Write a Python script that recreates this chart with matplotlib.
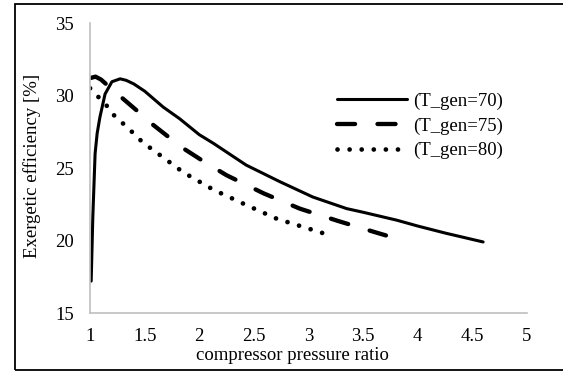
import matplotlib
matplotlib.use("Agg")
import matplotlib.pyplot as plt
from matplotlib.patches import Rectangle

plt.rcParams["font.family"] = ["Liberation Serif", "DejaVu Serif"]

# values
pr_70 = [1.01, 1.025, 1.046, 1.065, 1.09, 1.137, 1.2, 1.275, 1.33, 1.4, 1.5,
         1.67, 1.82, 2.0, 2.13, 2.43, 2.74, 3.04, 3.35, 3.5, 3.81, 4.0, 4.26, 4.6]
eff_70 = [17.2, 21.6, 26.0, 27.4, 28.5, 30.1, 30.95, 31.15, 31.05, 30.8, 30.3,
          29.2, 28.4, 27.3, 26.7, 25.2, 24.05, 23.0, 22.2, 21.95, 21.4, 21.0, 20.5, 19.9]

pr_75 = [1.0, 1.05, 1.1, 1.16, 1.275, 1.43, 1.565, 1.717, 1.855, 2.02, 2.25,
         2.59, 2.92, 3.27, 3.62, 3.71]
eff_75 = [31.2, 31.3, 31.1, 30.7, 29.95, 28.95, 28.05, 27.15, 26.35, 25.55, 24.5,
          23.25, 22.2, 21.35, 20.55, 20.35]

pr_80 = [1.0, 1.076, 1.147, 1.21, 1.29, 1.37, 1.44, 1.53, 1.61, 1.854, 2.13,
         2.43, 2.71, 3.01, 3.22]
eff_80 = [30.5, 29.9, 29.35, 28.7, 28.15, 27.6, 27.05, 26.5, 26.06, 24.7, 23.5,
          22.45, 21.5, 20.8, 20.3]

series_labels = ["(T_gen=70)", "(T_gen=75)", "(T_gen=80)"]

x_ticks = [1, 1.5, 2, 2.5, 3, 3.5, 4, 4.5, 5]
x_tick_labels = ["1", "1.5", "2", "2.5", "3", "3.5", "4", "4.5", "5"]
y_ticks = [15, 20, 25, 30, 35]
y_tick_labels = ["15", "20", "25", "30", "35"]

fig = plt.figure(figsize=(5.63, 3.71), dpi=100)
ax = fig.add_axes([0.160, 0.1563, 0.7757, 0.7817])

ax.plot(pr_70, eff_70, color="black", lw=2.2, solid_capstyle="round",
        label=series_labels[0])
ax.plot(pr_75, eff_75, color="black", lw=3.1, linestyle=(0, (4.2, 5.2)),
        dash_capstyle="round", label=series_labels[1])
ax.plot(pr_80, eff_80, color="black", lw=3.4, linestyle=(0, (0.01, 2.55)),
        dash_capstyle="round", label=series_labels[2])

ax.set_xlim(1, 5)
ax.set_ylim(15, 35)
ax.set_xticks(x_ticks)
ax.set_xticklabels(x_tick_labels)
ax.set_yticks(y_ticks)
ax.set_yticklabels(y_tick_labels)
ax.tick_params(axis="x", length=0, pad=11, labelsize=13.5)
ax.tick_params(axis="y", length=0, pad=11.5, labelsize=13.5)

for side in ["top", "right"]:
    ax.spines[side].set_visible(False)
for side in ["left", "bottom"]:
    ax.spines[side].set_color("#BFBFBF")
    ax.spines[side].set_linewidth(1.2)

ax.set_xlabel("compressor pressure ratio", fontsize=13.5)
ax.xaxis.set_label_coords(0.464, -0.118)
ax.set_ylabel("Exergetic efficiency [%]", fontsize=13.5)
ax.yaxis.set_label_coords(-0.112, 0.507)

ax.legend(loc="center left", bbox_to_anchor=(0.566, 0.645), frameon=False,
          borderpad=0, borderaxespad=0, handlelength=3.73, handletextpad=0.33,
          labelspacing=0.4, fontsize=13.5)

# outer frame, open on the right side like the reference
fig.patches.append(Rectangle((0.0258, 0.004), 1.0, 0.984, transform=fig.transFigure,
                             fill=False, edgecolor="black", lw=1.3))

fig.savefig("out.png", dpi=100)
